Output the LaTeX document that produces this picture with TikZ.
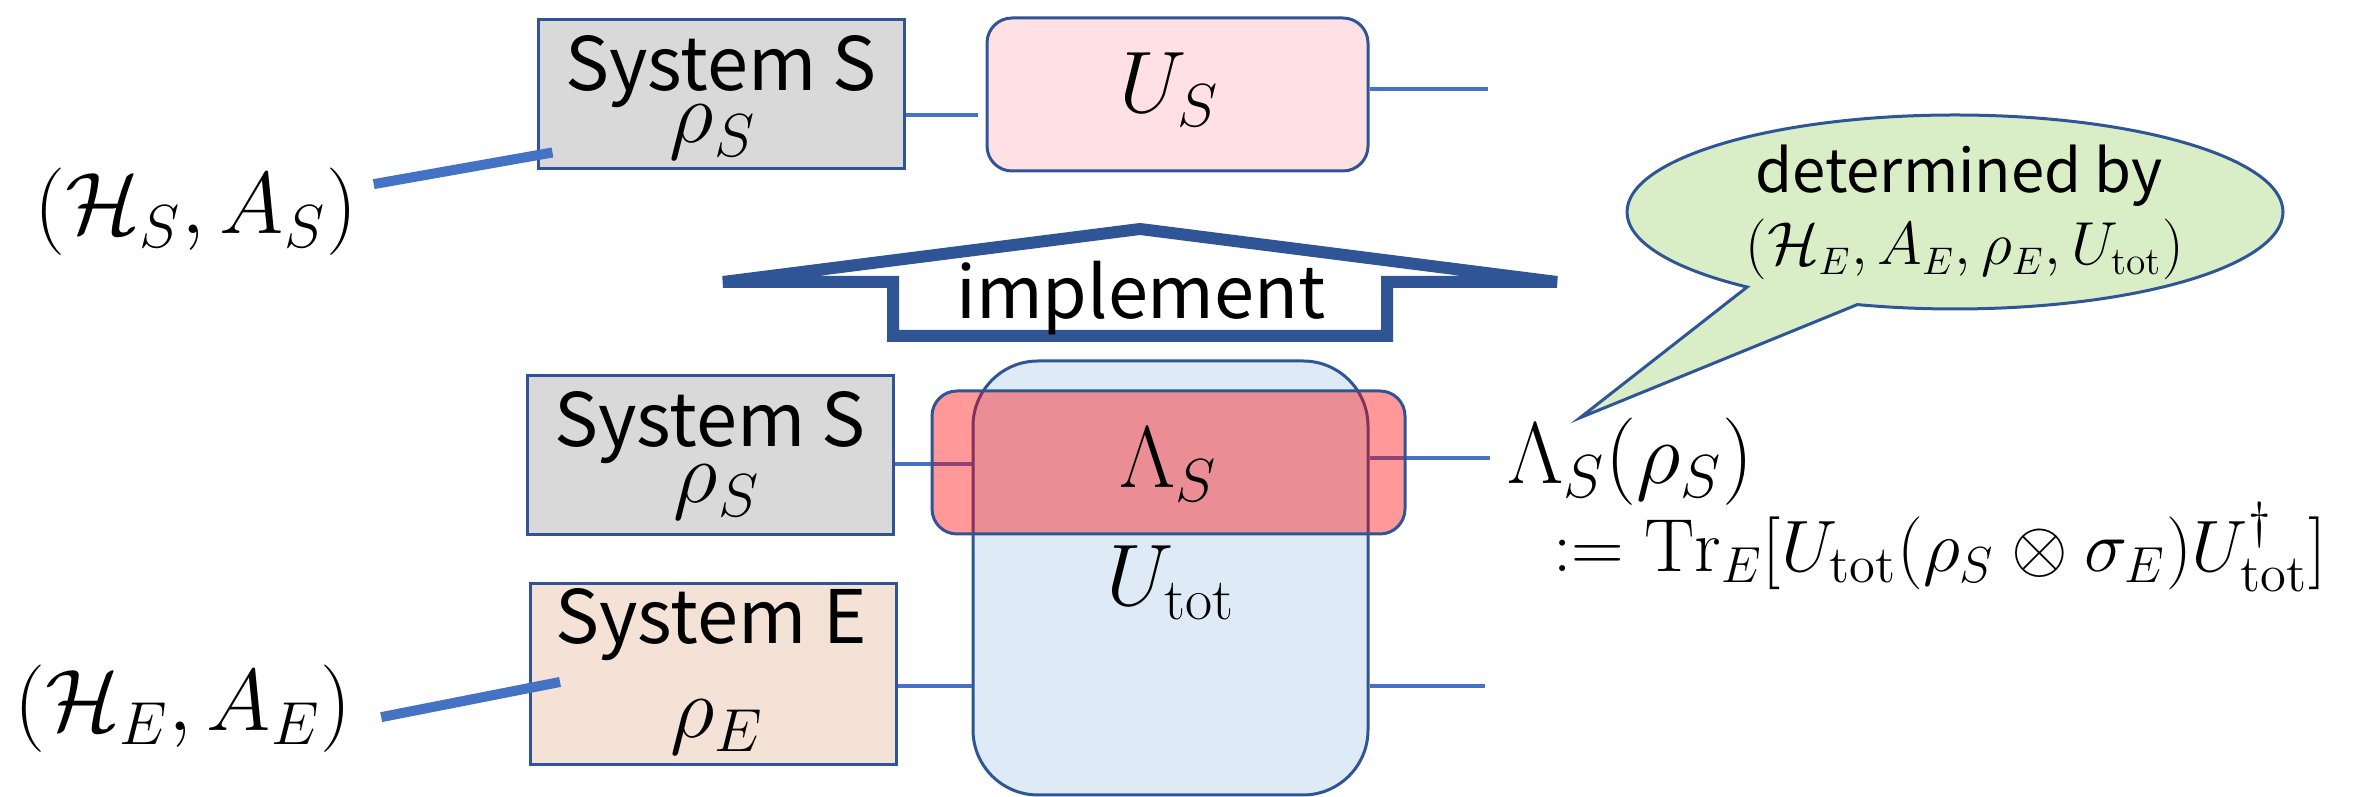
\documentclass[tikz,border=0pt]{standalone}
\usepackage{amsmath,amssymb}
\usepackage{fontspec}
\newfontfamily\jpfont{Noto Sans CJK JP}
\usetikzlibrary{positioning,shapes.callouts,calc}
\definecolor{edgeblue}{HTML}{2F5597}
\definecolor{wireblue}{HTML}{4472C4}
\definecolor{boxgray}{HTML}{D9D9D9}
\definecolor{envpeach}{HTML}{F4E2D7}
\definecolor{uspink}{HTML}{FFE0E4}
\definecolor{totblue}{HTML}{DEEBF7}
\definecolor{bubblegreen}{HTML}{D9EDC7}

\begin{document}
\begin{tikzpicture}[
    x=0.1mm, y=-0.1mm,
    sysbox/.style={draw=edgeblue, line width=0.3mm, minimum width=36.6mm, inner sep=0pt},
    gate/.style={draw=edgeblue, line width=0.3mm, rounded corners=2.5mm, inner sep=0pt},
    wire/.style={draw=wireblue, line width=0.4mm},
    lead/.style={draw=wireblue, line width=1mm},
    sf/.style={font=\jpfont\fontsize{21}{21}\selectfont, inner sep=0pt},
    mth/.style={font=\fontsize{24}{24}\selectfont, inner sep=0pt}
  ]
  \useasboundingbox (0,0) rectangle (2356,797);

  % upper row: the wanted channel
  \node[sysbox, fill=boxgray, minimum height=14.9mm] (sysTop) at (721,94.5) {};
  \node[gate, fill=uspink, minimum width=38.1mm, minimum height=15.3mm] (US) at (1177.5,94.5) {};
  \node[sf, anchor=base] (sysTopName) at (721,91) {System S};
  \node[mth, anchor=base] (rhoTop) at (713,143) {$\rho_S$};
  \node[mth, font=\fontsize{25}{25}\selectfont, anchor=base] (USlbl) at (1169,113) {$U_S$};
  \coordinate (topY) at (0,115);
  \coordinate (USout) at (1488,89);
  \draw[wire, shorten >=0.8mm] (sysTop.east |- topY) -- (US.west |- topY);
  \draw[wire] (US.east |- USout) -- (USout);

  \node[mth, anchor=base] (HSlbl) at (196,234) {$(\mathcal{H}_S,A_S)$};
  \draw[lead] ([shift={(1.6mm,2.8mm)}]HSlbl.east) -- ([shift={(1.6mm,1.8mm)}]sysTop.south west);

  % implement arrow
  \draw[edgeblue, line width=1.2mm] (723,282) -- (893,282) -- (893,336) -- (1387,336)
    -- (1387,282) -- (1557,282) -- (1140,229) -- cycle;
  \node[sf, font=\jpfont\fontsize{20.5}{20.5}\selectfont, anchor=base] (implLbl) at (1141,319) {implement};

  % lower row: dilation with environment
  \node[gate, fill=totblue, rounded corners=6.5mm, minimum width=39.5mm, minimum height=43.4mm] (Utot) at (1170.5,578) {};
  \node[sysbox, fill=boxgray, minimum height=15.9mm] (sysS) at (710.5,455.5) {};
  \node[sysbox, fill=envpeach, minimum height=18.1mm] (sysE) at (713.5,674.5) {};
  \coordinate (lamY) at (0,464);
  \coordinate (lamOut) at (1490,458);
  \coordinate (envY) at (0,686);
  \coordinate (envOut) at (1485,686);
  \draw[wire] (sysS.east |- lamY) -- (Utot.west |- lamY);
  \draw[wire] (Utot.east |- lamOut) -- (lamOut);
  \draw[wire] (sysE.east |- envY) -- (Utot.west |- envY);
  \draw[wire] (Utot.east |- envY) -- (envOut);
  \node[gate, fill=red, fill opacity=0.4, minimum width=47.3mm, minimum height=14.3mm] (Lam) at (1168.5,462.5) {};

  \node[sf, anchor=base] (sysSName) at (710,447) {System S};
  \node[mth, anchor=base] (rhoS) at (717,503) {$\rho_S$};
  \node[sf, anchor=base] (sysEName) at (711,644) {System E};
  \node[mth, anchor=base] (rhoE) at (717,738) {$\rho_E$};
  \node[mth, anchor=base] (lamLbl) at (1168,488) {$\Lambda_S$};
  \node[mth, anchor=base] (totLbl) at (1171,606) {$U_{\mathrm{tot}}$};

  \node[mth, anchor=base] (HElbl) at (183,731) {$(\mathcal{H}_E,A_E)$};
  \draw[lead] ([shift={(2.9mm,-0.8mm)}]HElbl.east) -- ([shift={(3.1mm,-0.75mm)}]sysE.west);

  % output and its definition
  \node[mth, font=\fontsize{23.5}{23.5}\selectfont, anchor=base west] (chanLbl) at (1507,484) {$\Lambda_S(\rho_S)$};
  \node[mth, font=\fontsize{21.4}{21.4}\selectfont, anchor=base west] (defLbl) at (1553,572)
    {$:= \mathrm{Tr}_E[U_{\mathrm{tot}}(\rho_S\otimes\sigma_E)U_{\mathrm{tot}}^{\dagger}]$};

  % speech bubble
  \node[ellipse callout, draw=edgeblue, fill=bubblegreen, line width=0.3mm,
    minimum width=65.6mm, minimum height=19.4mm, callout pointer arc=22,
    callout absolute pointer={([xshift=7.3mm]chanLbl.north west)}] (bubble) at (1955,212) {};
  \node[sf, font=\jpfont\fontsize{17}{17}\selectfont, anchor=base] (bubTxt) at (1959,193) {determined by};
  \node[mth, font=\fontsize{16}{16}\selectfont, anchor=base] (bubMath) at (1965,265)
    {$(\mathcal{H}_E,A_E,\rho_E,U_{\mathrm{tot}})$};
\end{tikzpicture}
\end{document}
